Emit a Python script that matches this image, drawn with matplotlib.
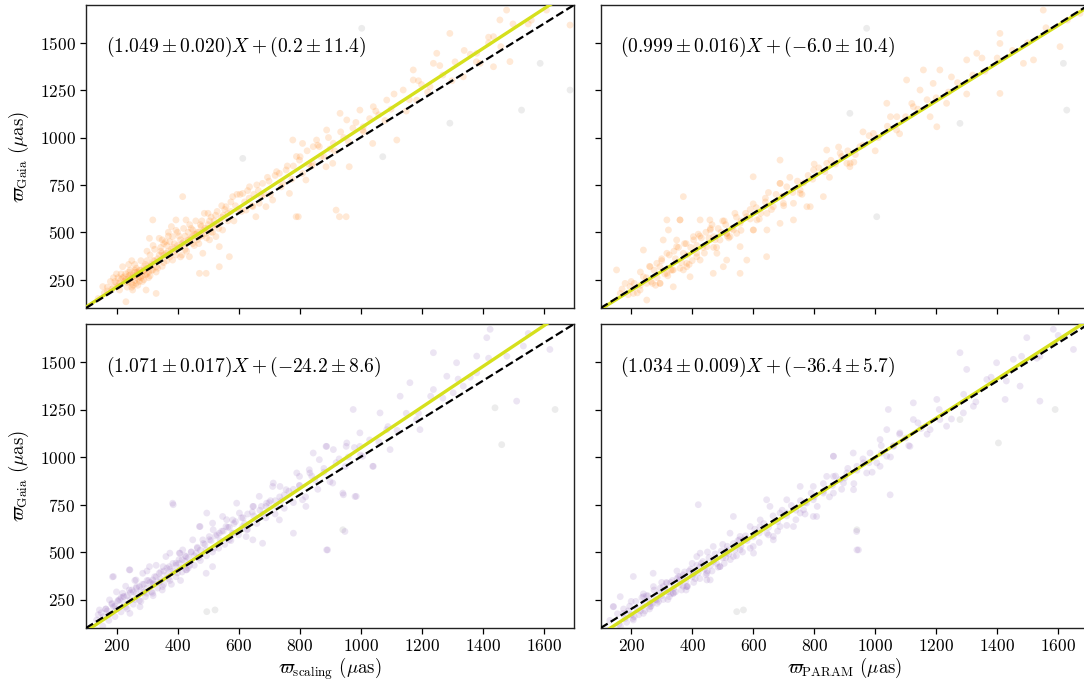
import matplotlib
matplotlib.use("Agg")
import matplotlib.pyplot as plt
import numpy as np

plt.rcParams['font.family'] = 'cmr10'
plt.rcParams['mathtext.fontset'] = 'cm'
plt.rcParams['axes.formatter.use_mathtext'] = True
plt.rcParams['axes.unicode_minus'] = False

# ---------------- data ----------------
tl_pts = [(140,150),(155,213),(170,190),(180,240),(190,210),(200,230),(205,260),(210,195),(215,250),(220,318),
          (225,240),(230,280),(231,133),(235,210),(240,255),(245,300),(250,230),(253,195),(255,270),(260,245),
          (264,230),(268,290),(270,255),(275,265),(280,300),(285,240),(290,320),(295,275),(297,195),(300,350),
          (305,290),(308,468),(310,380),(315,330),(319,300),(319,565),(325,410),(330,318),(330,177),(335,360),
          (340,468),(345,420),(350,390),(355,340),(360,450),(362,389),(365,430),(370,480),(375,370),(380,410),
          (384,353),(384,477),(390,440),(395,565),(400,500),(405,420),(410,460),(415,380),(417,688),(420,520),
          (425,480),(428,565),(430,440),(435,500),(439,371),(440,540),(445,470),(450,512),(455,430),(460,560),
          (465,500),(472,477),(472,283),(478,530),(483,389),(488,600),(494,494),(494,283),(500,520),(505,460),
          (510,580),(515,529),(520,540),(526,477),(530,610),(537,424),(537,318),(540,560),(545,640),(548,512),
          (550,590),(559,635),(565,600),(570,371),(575,660),(581,688),(590,640),(600,620),(605,700),(614,705),
          (620,660),(625,617),(635,680),(636,740),(647,635),(650,700),(657,582),(665,720),(668,653),(679,758),
          (685,700),(690,635),(700,770),(712,670),(720,800),(734,811),(745,760),(756,829),(767,705),(778,987),
          (780,850),(789,582),(796,582),(800,881),(802,899),(810,969),(821,776),(830,860),(843,864),(845,952),
          (856,987),(865,952),(870,900),(887,846),(889,1040),(900,940),(909,864),(911,970),(920,617),(931,582),
          (933,1128),(945,1000),(953,582),(955,1093),(963,846),(975,1050),(998,1145),(1007,1040),(1009,1057),
          (1030,1100),(1040,969),(1042,1163),(1060,1120),(1086,1198),(1100,1150),(1119,987),(1140,1251),
          (1160,1200),(1173,1357),(1173,1304),(1184,1198),(1200,1280),(1228,1268),(1239,1392),(1250,1445),
          (1270,1330),(1293,1550),(1310,1400),(1337,1321),(1360,1440),(1381,1445),(1392,1392),(1420,1500),
          (1436,1533),(1436,1374),(1457,1621),(1479,1673),(1490,1401),(1550,1600),(1610,1673),(1687,1594),
          (210,230),(240,240),(260,290),(275,300),(285,270),(300,310),(320,350),(340,380),(355,380),(370,400),
          (390,400),(400,430),(410,420),(420,450),(440,460),(450,480),(460,490),(470,500),(480,480),(490,520),
          (500,540),(510,500),(520,560),(530,540),(260,330),(280,350),(300,400),(320,430),(240,330),(250,350),
          (350,460),(370,500),(380,530),(395,510),(190,260),(200,280),(170,210),(160,180),(480,560),(500,600),
          (470,440),(450,440),(430,400),(410,370),(350,320),(330,290),(310,270),(290,250),(270,220),(250,210),
          (185,200),(195,240),(205,215),(215,280),(225,265),(235,235),(245,275),(255,220),(265,310),(275,240),
          (285,290),(295,330),(305,260),(315,300),(325,350),(335,310),(345,400),(355,440),(365,350),(375,450),
          (385,420),(395,380),(405,480),(415,440),(425,410),(435,460),(445,520),(455,490),(465,460),(475,540),
          (485,510),(495,470),(505,560),(515,500),(525,590),(535,520),(545,580),(555,620),(565,560),(575,610),
          (585,560),(595,700),(610,610),(630,720),(645,640),(660,750),(675,690),(695,790),(705,700),(725,820),
          (740,740),(760,850),(775,780),(790,900),(810,810),(825,930),(840,850),(860,960),(880,900),(895,1000),
          (915,930),(935,1030),(960,980),(985,1080),(1010,1030),(1050,1140),(1080,1090),(1110,1230),(1150,1140),
          (1190,1300),(1220,1240),(1260,1380),(1300,1300),(1340,1460),(1380,1400),(1420,1530),(1460,1480),
          (1500,1600),(1560,1620),(220,260),(230,250),(240,270),(250,260),(260,270),(270,280),(280,260),
          (290,300),(300,280),(310,320),(240,290),(260,300)]
tl_grey = [(1004,1577),(614,890),(1528,1145),(1687,1251),(1589,1392),(1293,1076),(1073,899)]

tr_pts = [(371,688),(360,565),(426,565),(458,565),(322,512),(349,459),(305,459),(240,406),(152,301),(251,142),
          (294,230),(294,318),(338,212),(382,318),(415,371),(469,283),(502,318),(513,494),(546,494),(557,283),
          (600,512),(600,793),(644,371),(688,881),(688,758),(754,705),(787,635),(841,934),(830,688),(907,864),
          (917,846),(950,952),(994,1022),(1038,1181),(1071,1110),(1125,1163),(1103,1304),(1147,1251),(1190,1286),
          (1234,1181),(1202,1057),(1158,1357),(1212,1357),(1300,1410),(1333,1445),(1409,1550),(1409,1497),
          (1409,1233),(1486,1392),(1519,1410),(1551,1673),(1606,1480),(1672,1656),
          (295,230),(317,283),(338,301),(371,301),(382,336),(284,336),(262,318),(240,265),(196,213),(164,177),
          (229,195),(415,389),(426,353),(448,424),(470,477),(491,459),(513,494),(524,477),(535,512),(557,547),
          (579,582),(601,512),(612,565),(645,600),(666,635),(688,758),(699,653),(732,653),(754,723),(798,829),
          (841,864),(885,917),(918,864),(317,565),(360,565),(404,477),(459,512),(349,424),(481,389),(513,353),
          (557,424),(579,353),(645,512),(688,547),(776,635),(732,565),(371,389),(317,389),(393,265),(207,177),
          (251,230),(200,240),(220,180),(260,320),(280,220),(300,360),(320,270),(340,400),(360,310),(380,440),
          (400,350),(420,490),(440,390),(460,520),(480,420),(500,560),(520,470),(540,600),(560,510),(600,650),
          (620,570),(650,710),(700,640),(720,790),(760,700),(800,860),(850,790),(880,950),(930,870),(960,1030),
          (1000,930),(1050,1110),(1080,1020),(1120,1180),(1180,1110),(1250,1320),(1300,1230),(1350,1420),
          (180,230),(230,290),(270,230),(330,300),(390,330),(430,470),(470,420),(510,540),(590,620),(640,680),
          (170,200),(190,170),(210,230),(230,220),(250,260),(265,240),(275,300),(285,260),(300,350),(310,280),
          (325,380),(335,300),(345,360),(355,420),(365,340),(375,440),(385,380),(395,420),(405,460),(415,430),
          (425,480),(435,420),(445,500),(455,470),(465,540),(475,460),(485,520),(495,500),(505,560),(515,480),
          (530,520),(545,580),(560,560),(575,600),(590,570),(610,630),(625,600),(640,660),(660,620),(675,700),
          (695,690),(710,740),(730,710),(745,770),(765,760),(780,800),(795,780),(815,840),(835,820),(855,880),
          (870,860),(890,900),(910,930),(935,910),(960,960),(980,1010),(1010,1000),(1040,1060),(1070,1040),
          (1100,1110),(1140,1150),(1170,1200),(1200,1210),(1240,1240),(1270,1290),(1320,1330),(1360,1350),
          (1400,1420),(1450,1460),(1500,1500),(1560,1580),(1630,1620)]
tr_grey = [(1005,582),(917,1128),(972,1577),(1278,1075),(1617,1392),(1628,1145)]

bl_pts = [(386,749),(190,371),(244,406),(889,511),(949,608),(780,599),(944,801),(982,792),(1042,951),
          (976,1250),(1162,1391),(1239,1549),(1315,1496),(1381,1531),(1414,1628),(1425,1672),(1512,1294),
          (1534,1584),(1621,1566),(1130,1320),(1086,1144),(1064,1232),(1097,1039),(1195,1144),(1184,1197),
          (1239,1355),(1283,1425),(1304,1338),(1337,1373),(1381,1443),(998,1127),(998,1056),(955,1074),
          (911,1039),(889,1056),(845,1021),(834,916),(791,916),(736,845),(714,863),(692,757),(649,740),
          (594,757),(561,670),(583,599),(627,617),(517,617),(474,634),(496,705),(408,494),(375,494),(430,406),
          (353,423),(321,336),(299,283),(266,318),(222,265),(190,212),(157,160),(135,142),(244,177),(277,212),
          (144,195),(177,248),(187,369),(220,283),(242,300),(242,406),(264,353),(275,318),(286,388),(308,423),
          (319,353),(319,283),(340,388),(351,318),(362,476),(373,423),(384,757),(395,441),(406,494),(417,511),
          (428,476),(428,406),(450,564),(461,494),(472,634),(483,564),(494,511),(494,388),(504,581),(515,652),
          (515,423),(537,599),(548,687),(559,634),(570,564),(581,669),(603,705),(614,634),(625,581),(647,740),
          (647,564),(668,793),(679,546),(690,740),(712,845),(723,740),(734,669),(756,828),(800,898),(810,775),
          (821,740),(832,933),(865,986),(887,1056),(909,863),(942,810),(986,793),(953,1056),(1007,1004),
          (1040,951),(892,511),
          (150,180),(165,200),(175,170),(185,230),(195,215),(205,240),(215,260),(225,230),(235,270),(245,250),
          (255,290),(265,280),(280,300),(290,330),(300,310),(310,340),(320,330),(330,370),(345,360),(355,400),
          (365,380),(375,410),(385,400),(395,430),(405,440),(415,460),(425,450),(435,470),(445,500),(455,480),
          (465,520),(475,510),(490,540),(510,560),(530,590),(550,610),(570,630),(590,660),(610,680),(630,700),
          (650,690),(670,720),(700,760),(720,770),(750,800),(780,830),(800,850),(850,880),(880,920),(920,970),
          (960,1000),(200,200),(230,210),(260,250),(290,290),(340,340),(370,360),(400,390),(440,430),(470,470),
          (520,520),(540,560),(580,600),(620,650),(680,700),(740,770),(170,190),(210,250),(250,300),(300,350),
          (140,170),(155,110),(165,200),(175,140),(185,225),(195,160),(205,245),(215,185),(225,265),(235,200),
          (245,285),(255,225),(265,310),(275,245),(285,330),(295,265),(305,350),(315,290),(325,370),(335,310),
          (345,395),(355,330),(365,415),(375,350),(385,440),(395,370),(405,460),(415,395),(425,480),(435,415),
          (445,500),(455,430),(465,525),(475,455),(485,545),(495,480),(505,565),(515,500),(525,585),(535,520),
          (545,610),(555,540),(565,630),(575,560),(585,650),(600,590),(615,680),(630,620),(645,710),(660,650),
          (675,740),(690,680),(705,770),(720,700),(735,790),(750,730),(765,820),(780,760),(800,850),(820,790),
          (840,900),(860,830),(880,940),(900,870),(930,990),(950,950),(980,1050),(1000,1010),(1030,1090),
          (1060,1080),(1090,1160),(1120,1140),(1150,1230),(1190,1230),(1230,1320),(1270,1310),(1320,1410),
          (1360,1420),(1420,1520),(1480,1530),(1550,1650),(200,290),(230,320),(260,350),(280,240),(320,270),
          (350,300),(380,330),(410,350),(300,400),(330,430)]
bl_grey = [(496,186),(523,195),(1441,1259),(1463,1065),(1638,1250),(942,617)]

br_pts = [(420,749),(207,371),(141,212),(939,608),(945,511),(863,1004),(1049,801),(1043,1250),(1278,1549),
          (1300,1461),(1426,1303),(1540,1294),(1497,1628),(1584,1672),(1650,1566),(1540,1531),(1453,1514),
          (1398,1496),(1475,1373),(1366,1408),(1322,1267),(1289,1232),(1234,1162),(1212,1197),(1180,1144),
          (1202,1303),(1125,1285),(1125,1197),(1114,1056),(1081,1127),(1038,1144),(1016,1092),(983,1021),
          (1016,951),(961,969),(928,1021),(907,916),(885,881),(863,898),(830,810),(797,845),(775,757),
          (754,705),(797,687),(710,775),(688,705),(644,775),(666,582),(622,634),(600,529),(557,582),(535,687),
          (513,494),(491,423),(469,529),(448,353),(426,494),(404,388),(382,318),(360,353),(338,283),(305,318),
          (272,388),(284,248),(262,212),(240,177),(207,142),(174,177),
          (142,213),(164,265),(240,265),(262,230),(273,318),(295,283),(317,336),(338,283),(360,371),(382,318),
          (404,388),(415,476),(426,423),(448,388),(459,353),(470,459),(491,423),(513,511),(524,599),(535,476),
          (557,511),(568,564),(590,634),(601,494),(623,669),(645,599),(655,740),(666,564),(688,634),(710,705),
          (732,634),(754,845),(765,722),(797,775),(808,687),(841,898),(863,1004),(863,810),(896,863),(929,828),
          (940,951),(972,916),(1005,969),(1038,1004),(1060,1056),(940,511),
          (160,120),(180,150),(200,170),(220,200),(240,220),(260,240),(280,250),(300,270),(320,290),(340,310),
          (360,330),(380,350),(400,370),(420,390),(440,410),(460,430),(480,440),(500,470),(520,490),(540,510),
          (560,530),(580,560),(600,580),(620,600),(650,630),(680,660),(710,690),(740,720),(770,760),(800,790),
          (830,820),(860,850),(900,890),(940,930),(980,970),(1020,1020),(1060,1060),(1100,1100),(1150,1150),
          (190,190),(230,190),(250,270),(270,230),(310,300),(330,280),(350,360),(370,320),(390,400),(410,360),
          (430,440),(450,400),(210,160),(290,240),(330,340),(370,380),(470,450),(510,470),(550,560),
          (130,140),(145,80),(155,175),(165,110),(175,200),(185,130),(195,215),(205,150),(215,240),(225,170),
          (235,260),(245,190),(255,270),(265,215),(275,300),(285,230),(295,310),(305,250),(315,340),(325,265),
          (335,350),(345,290),(355,370),(365,300),(375,395),(385,320),(395,410),(405,340),(415,430),(425,360),
          (435,450),(445,380),(455,470),(465,400),(475,490),(485,420),(495,505),(505,440),(515,530),(525,460),
          (535,545),(545,480),(555,565),(565,500),(575,585),(590,520),(605,620),(620,550),(635,650),(650,590),
          (665,690),(680,610),(695,720),(710,640),(725,745),(740,670),(755,770),(770,700),(790,810),(810,740),
          (830,860),(850,790),(870,900),(890,830),(910,940),(930,860),(960,990),(990,920),(1020,1060),(1050,1000),
          (1080,1120),(1110,1060),(1140,1180),(1170,1120),(1210,1250),(1250,1200),(1290,1330),(1330,1290),
          (1380,1420),(1430,1400),(1480,1530),(1530,1520),(1600,1640),(200,240),(240,280),(300,340),(350,400),
          (400,440),(450,500),(500,540),(260,200),(320,250),(380,300)]
br_grey = [(546,186),(568,195),(1278,1197),(1404,1074),(1590,1250),(940,617)]

fits = [(1.049, 0.2), (0.999, -6.0), (1.071, -24.2), (1.034, -36.4)]
fit_labels = [r'$(1.049 \pm 0.020)X + (0.2 \pm 11.4)$',
              r'$(0.999 \pm 0.016)X + (-6.0 \pm 10.4)$',
              r'$(1.071 \pm 0.017)X + (-24.2 \pm 8.6)$',
              r'$(1.034 \pm 0.009)X + (-36.4 \pm 5.7)$']
xlabels = [r'$\varpi_{\rm scaling}$ ($\mu$as)', r'$\varpi_{\rm PARAM}$ ($\mu$as)']
ylabel = r'$\varpi_{\rm Gaia}$ ($\mu$as)'
yticks = [250, 500, 750, 1000, 1250, 1500]
xticks = [200, 400, 600, 800, 1000, 1200, 1400, 1600]
lims = (100, 1700)

# ---------------- figure ----------------
W, H = 1084, 686
fig = plt.figure(figsize=(W/100, H/100), dpi=100)
lefts = [86/W, 600.7/W]
bottoms = [1-308/H, 1-628/H]
wd = 488/W
hts = [303/H, 304/H]

panels = [tl_pts, tr_pts, bl_pts, br_pts]
greys = [tl_grey, tr_grey, bl_grey, br_grey]
cols = ['#ff7f0e', '#ff7f0e', '#9467bd', '#9467bd']

line = np.array(lims, dtype=float)
for i in range(4):
    r, c = divmod(i, 2)
    ax = fig.add_axes([lefts[c], bottoms[r], wd, hts[r]])
    g = np.array(greys[i])
    ax.scatter(g[:, 0], g[:, 1], s=24, color='#8a8a8a', alpha=0.16, edgecolors='none')
    p = np.array(panels[i])
    ax.scatter(p[:, 0], p[:, 1], s=24, color=cols[i], alpha=0.17, edgecolors='none')
    m, b = fits[i]
    ax.plot(line, m*line + b, color='#d6e01c', lw=2.4, zorder=3)
    ax.plot(line, line, color='black', lw=1.6, ls='--', zorder=4)
    ax.set_xlim(lims)
    ax.set_ylim(lims)
    ax.set_xticks(xticks)
    ax.set_yticks(yticks)
    ax.tick_params(labelsize=12.5, length=4, width=0.9)
    for s in ax.spines.values():
        s.set_linewidth(1.0)
        s.set_color('#222222')
    ax.text(0.04, 0.86, fit_labels[i], transform=ax.transAxes, fontsize=14,
            va='center', ha='left', zorder=5)
    if r == 0:
        ax.tick_params(labelbottom=False)
    else:
        ax.set_xlabel(xlabels[c], fontsize=13.5, labelpad=1)
    if c == 1:
        ax.tick_params(labelleft=False)
    else:
        ax.set_ylabel(ylabel, fontsize=13.5, labelpad=6)

fig.savefig('out.png', dpi=100)
